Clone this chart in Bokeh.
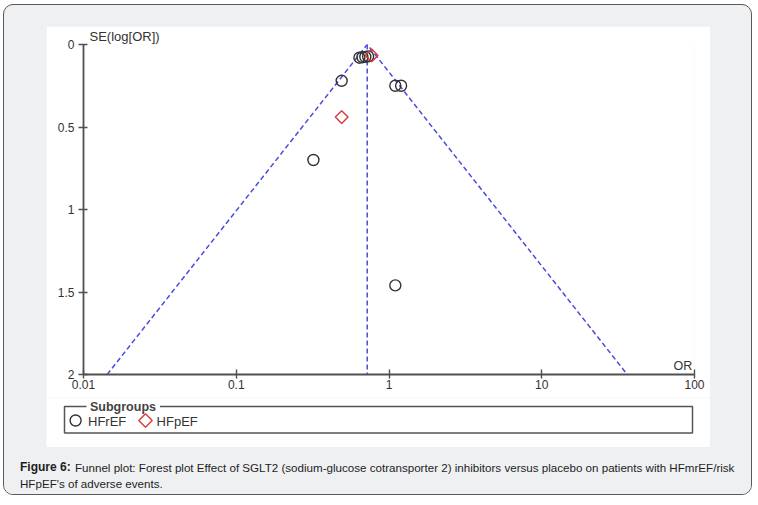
import numpy as np
from bokeh.plotting import figure
from bokeh.models import Range1d, FixedTicker, Label, Title, Column, Row, Spacer
from bokeh.core.properties import value
from bokeh.embed import file_html
from bokeh.resources import INLINE

# ---- data ----
hfref_or = [0.64, 0.67, 0.70, 0.73, 0.49, 1.10, 1.20, 0.32, 1.10]
hfref_se = [0.08, 0.077, 0.075, 0.072, 0.22, 0.25, 0.25, 0.70, 1.46]
hfpef_or = [0.77, 0.49]
hfpef_se = [0.066, 0.44]
pooled_or = 0.72
se_max = 2.0
x_ticks = [0.01, 0.1, 1, 10, 100]
x_tick_labels = ["0.01", "0.1", "1", "10", "100"]
y_ticks = [0, 0.5, 1, 1.5, 2]
y_tick_labels = ["0", "0.5", "1", "1.5", "2"]
group_names = ["HFrEF", "HFpEF"]
legend_title = "Subgroups"
caption_bold = "Figure 6:"
caption_line1 = ("Funnel plot: Forest plot Effect of SGLT2 (sodium-glucose cotransporter 2) "
                 "inhibitors versus placebo on patients with HFmrEF/risk")
caption_line2 = "HFpEF's of adverse events."

FONT = "Liberation Sans"
GRAY_BG = "#eff0f2"
BLUE = "#4b4bdd"
RED = "#d63b3b"
DARK = "#333333"

funnel_x = [pooled_or * np.exp(-1.96 * se_max), pooled_or, pooled_or * np.exp(1.96 * se_max)]
funnel_y = [se_max, 0, se_max]

# ---------------- main funnel plot ----------------
p = figure(x_axis_type="log", x_range=Range1d(0.01, 100), y_range=Range1d(2, 0),
           frame_width=611, frame_height=330,
           min_border_left=37, min_border_right=16, min_border_top=18, min_border_bottom=23,
           output_backend="svg", toolbar_location=None,
           background_fill_color="white", border_fill_color="white", outline_line_color=None)
p.grid.visible = False

for ax in (p.xaxis[0], p.yaxis[0]):
    ax.axis_line_color = "#505050"
    ax.axis_line_width = 1.8
    ax.major_tick_line_color = "#505050"
    ax.major_tick_line_width = 1.4
    ax.minor_tick_line_color = None
    ax.major_label_text_font = FONT
    ax.major_label_text_font_size = "12px"
    ax.major_label_text_color = DARK

p.xaxis.ticker = FixedTicker(ticks=x_ticks)
p.xaxis.major_label_overrides = dict(zip(x_ticks, x_tick_labels))
p.xaxis.major_tick_in = 5
p.xaxis.major_tick_out = 4
p.xaxis.major_label_standoff = 1

p.yaxis.ticker = FixedTicker(ticks=y_ticks)
p.yaxis.major_label_overrides = dict(zip(y_ticks, y_tick_labels))
p.yaxis.major_tick_in = 4
p.yaxis.major_tick_out = 5
p.yaxis.major_label_standoff = 4

p.add_layout(Title(text="SE(log[OR])", align="left", offset=6, standoff=1,
                   text_font=FONT, text_font_size="13px", text_font_style="normal",
                   text_color=DARK), "above")

p.line(funnel_x, funnel_y, line_color=BLUE, line_width=1.5, line_dash="5 3")
p.line([pooled_or, pooled_or], [0, se_max], line_color=BLUE, line_width=1.5, line_dash="5 3")

p.scatter(hfref_or, hfref_se, marker="circle", size=11, fill_color=None,
          line_color=DARK, line_width=1.4)
p.scatter(hfpef_or, hfpef_se, marker="square", angle=np.pi / 4, size=9, fill_color=None,
          line_color=RED, line_width=1.4)

p.add_layout(Label(x=84, y=1.99, text="OR", text_font=FONT, text_font_size="12.5px",
                   text_color=DARK, text_align="center", text_baseline="bottom"))

# ---------------- legend strip (page-pixel coordinates) ----------------
lg = figure(width=664, height=50, x_range=Range1d(46.5, 710.5), y_range=Range1d(447.5, 397.5),
            min_border=0, x_axis_location=None, y_axis_location=None,
            output_backend="svg", toolbar_location=None,
            background_fill_color="white", border_fill_color="white", outline_line_color=None)
lg.grid.visible = False
box_l, box_r, box_t, box_b = 64.5, 692.5, 406.5, 433
gap_l, gap_r = 86.5, 160
lg.multi_line(xs=[[gap_l, box_l, box_l, box_r, box_r, gap_r]],
              ys=[[box_t, box_t, box_b, box_b, box_t, box_t]],
              line_color="#555555", line_width=1.5)
lg.text(x=[90], y=[box_t], text=[legend_title], text_font=value(FONT), text_font_size="12.5px",
        text_font_style=value("bold"), text_color="#444444", text_baseline="middle")
lg.scatter([75.6], [420.5], marker="circle", size=11, fill_color=None, line_color=DARK, line_width=1.4)
lg.scatter([145.5], [420.5], marker="square", angle=np.pi / 4, size=9.5, fill_color=None,
           line_color=RED, line_width=1.4)
lg.text(x=[88, 156.6], y=[421, 421], text=group_names, text_font=value(FONT), text_font_size="13px",
        text_color=DARK, text_baseline="middle")

# ---------------- caption strip ----------------
cap = figure(width=747, height=47, x_range=Range1d(0, 747), y_range=Range1d(47, 0),
             min_border=0, x_axis_location=None, y_axis_location=None,
             output_backend="svg", toolbar_location=None,
             background_fill_color=GRAY_BG, border_fill_color=GRAY_BG, outline_line_color=None)
cap.grid.visible = False
cap.text(x=[15.5], y=[19.5], text=[caption_bold], text_font=value(FONT), text_font_size="12px",
         text_font_style=value("bold"), text_color="#1e1e1e", text_baseline="middle")
cap.text(x=[70.5, 15.5], y=[19.5, 35.5], text=[caption_line1, caption_line2], text_font=value(FONT),
         text_font_size="11.6px", text_color="#1e1e1e", text_baseline="middle")

inner = Column(children=[Spacer(width=1, height=21),
                         Row(children=[Spacer(width=42, height=1), p], spacing=0),
                         Row(children=[Spacer(width=42, height=1), lg], spacing=0),
                         cap],
               spacing=0,
               styles={"background-color": GRAY_BG, "border": "1.5px solid #5a5a5a",
                       "border-radius": "10px", "overflow": "hidden"})
root = Column(children=[Spacer(width=1, height=4),
                        Row(children=[Spacer(width=3, height=1), inner], spacing=0)],
              spacing=0)

open("out.html", "w").write(file_html(root, INLINE))
